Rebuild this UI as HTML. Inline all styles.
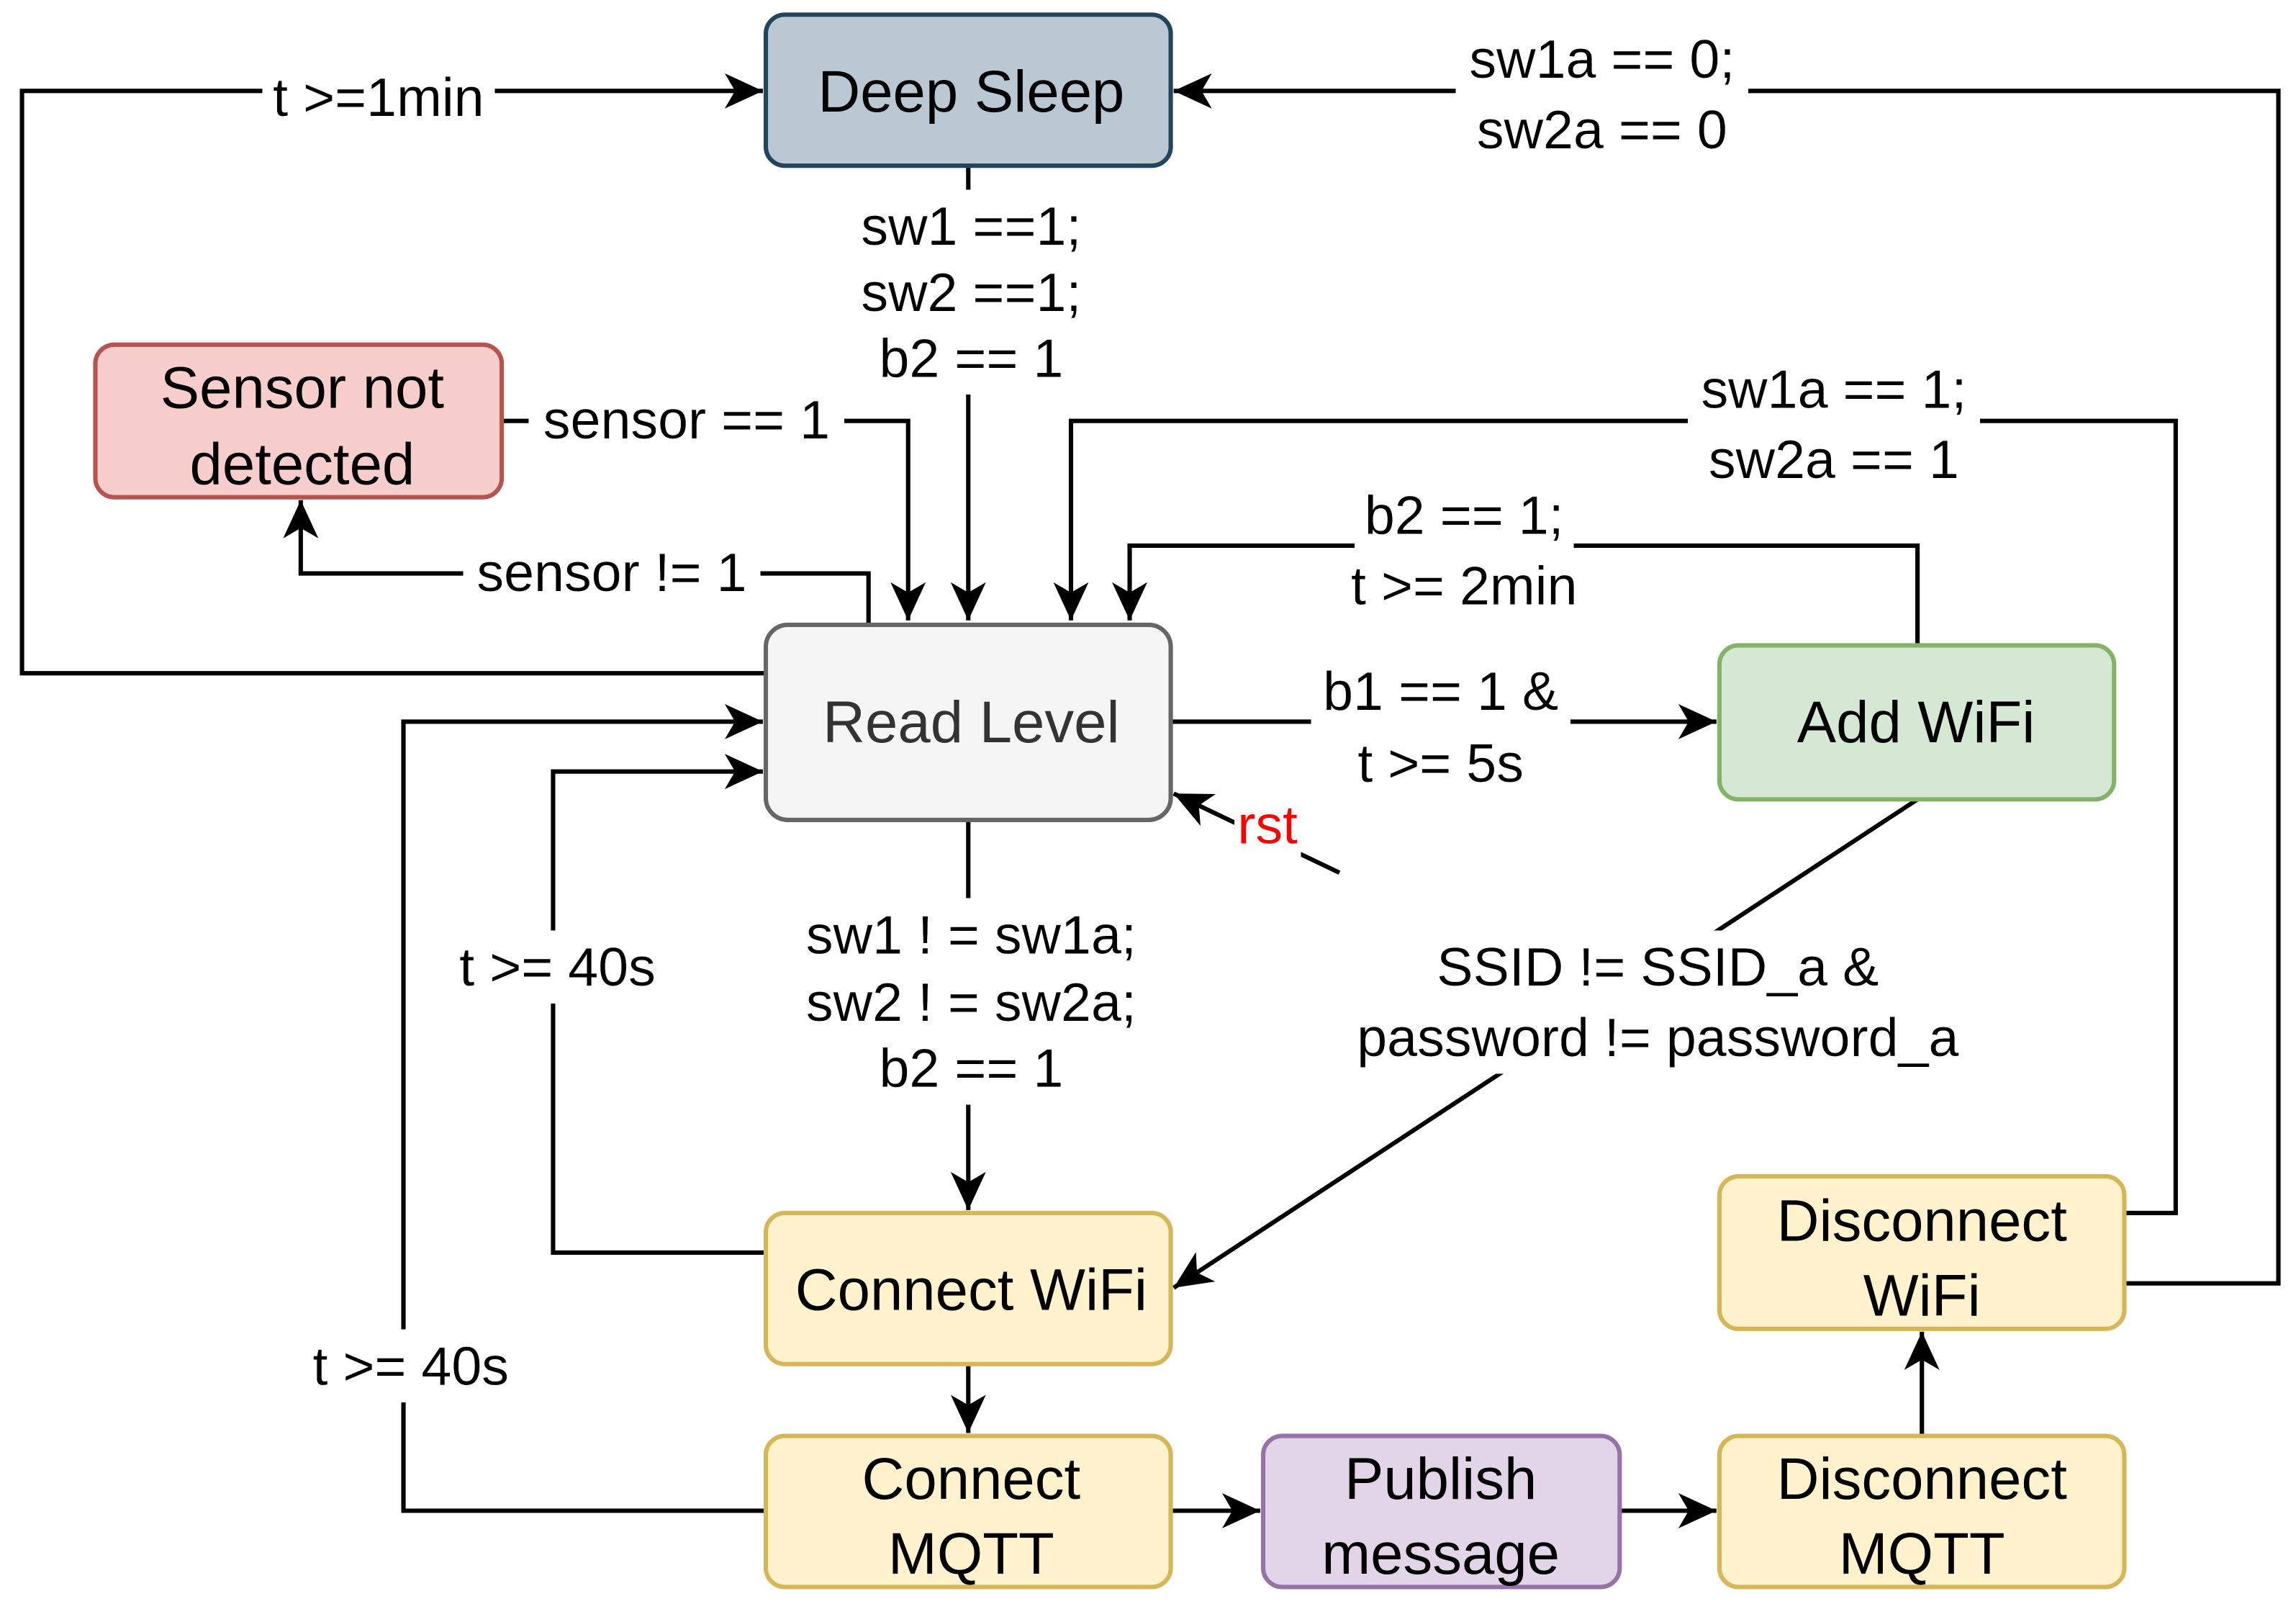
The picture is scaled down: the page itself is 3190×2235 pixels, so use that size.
<!DOCTYPE html>
<html><head><meta charset="utf-8"><style>
html,body{margin:0;padding:0;background:#fff;}
svg{display:block;}
text{font-family:"Liberation Sans",sans-serif;font-size:37px;fill:#000;text-anchor:middle;}
.lbl{filter:url(#bg);}
.n{font-size:40px;}
</style></head><body>
<svg width="3190" height="2235" viewBox="0 0 1565 1097" preserveAspectRatio="none" xmlns="http://www.w3.org/2000/svg">
<defs>
<marker id="a" markerUnits="userSpaceOnUse" markerWidth="30" markerHeight="30" refX="26" refY="12" orient="auto">
<path d="M0,0 L26,12 L0,24 L7,12 Z" fill="#000"/>
</marker>
<filter id="bg" x="-0.05" y="-0.1" width="1.1" height="1.2">
<feFlood flood-color="#fff"/>
<feMerge><feMergeNode/><feMergeNode in="SourceGraphic"/></feMerge>
</filter>
</defs>
<g fill="none" stroke="#000" stroke-width="3">
<polyline points="522,459 15,459 15,62 520,62" marker-end="url(#a)"/>
<polyline points="660,113 660,423" marker-end="url(#a)"/>
<polyline points="342,287 619,287 619,423" marker-end="url(#a)"/>
<polyline points="592,426 592,391 205,391 205,341" marker-end="url(#a)"/>
<polyline points="1448,827 1483,827 1483,287 730,287 730,423" marker-end="url(#a)"/>
<polyline points="1307,440 1307,372 770,372 770,423" marker-end="url(#a)"/>
<polyline points="798,492 1170,492" marker-end="url(#a)"/>
<polyline points="913,595 800,541" marker-end="url(#a)"/>
<polyline points="1307,545 800,878" marker-end="url(#a)"/>
<polyline points="660,559 660,825" marker-end="url(#a)"/>
<polyline points="522,854 377,854 377,526 520,526" marker-end="url(#a)"/>
<polyline points="522,1030 275,1030 275,492 520,492" marker-end="url(#a)"/>
<polyline points="660,930 660,977" marker-end="url(#a)"/>
<polyline points="798,1030 859,1030" marker-end="url(#a)"/>
<polyline points="1104,1030 1170,1030" marker-end="url(#a)"/>
<polyline points="1310,979 1310,908" marker-end="url(#a)"/>
<polyline points="1448,875 1553,875 1553,62 800,62" marker-end="url(#a)"/>
</g>
<g stroke-width="3">
<rect x="522" y="10" width="276" height="103" rx="13" fill="#bac8d3" stroke="#23445d"/>
<rect x="65" y="235" width="277" height="104" rx="13" fill="#f8cecc" stroke="#b85450"/>
<rect x="522" y="426" width="276" height="133" rx="15" fill="#f5f5f5" stroke="#666666"/>
<rect x="1172" y="440" width="269" height="105" rx="13" fill="#d5e8d4" stroke="#82b366"/>
<rect x="522" y="827" width="276" height="103" rx="13" fill="#fff2cc" stroke="#d6b656"/>
<rect x="522" y="979" width="276" height="103" rx="13" fill="#fff2cc" stroke="#d6b656"/>
<rect x="861" y="979" width="243" height="103" rx="13" fill="#e1d5e7" stroke="#9673a6"/>
<rect x="1172" y="979" width="276" height="103" rx="13" fill="#fff2cc" stroke="#d6b656"/>
<rect x="1172" y="802" width="276" height="104" rx="13" fill="#fff2cc" stroke="#d6b656"/>
</g>
<text class="n" x="662" y="76">Deep Sleep</text>
<text class="n" x="206" y="278">Sensor not</text>
<text class="n" x="206" y="330">detected</text>
<text class="n" x="662" y="506" style="fill:#333">Read Level</text>
<text class="n" x="1306" y="506">Add WiFi</text>
<text class="n" x="662" y="893">Connect WiFi</text>
<text class="n" x="662" y="1022">Connect</text>
<text class="n" x="662" y="1073">MQTT</text>
<text class="n" x="982" y="1022">Publish</text>
<text class="n" x="982" y="1073">message</text>
<text class="n" x="1310" y="846">Disconnect</text>
<text class="n" x="1310" y="897">WiFi</text>
<text class="n" x="1310" y="1022">Disconnect</text>
<text class="n" x="1310" y="1073">MQTT</text>

<text class="lbl" x="258" y="79">t &gt;=1min</text>
<text class="lbl" x="662" y="167">sw1 ==1;</text>
<text class="lbl" x="662" y="212">sw2 ==1;</text>
<text class="lbl" x="662" y="257">b2 == 1</text>
<text class="lbl" x="468" y="299">sensor == 1</text>
<text class="lbl" x="417" y="403">sensor != 1</text>
<text class="lbl" x="1250" y="278">sw1a == 1;</text>
<text class="lbl" x="1250" y="326">sw2a == 1</text>
<text class="lbl" x="998" y="364">b2 == 1;</text>
<text class="lbl" x="998" y="412">t &gt;= 2min</text>
<text class="lbl" x="982" y="484">b1 == 1 &amp;</text>
<text class="lbl" x="982" y="533">t &gt;= 5s</text>
<text class="lbl" x="864" y="575" style="fill:#ff0000">rst</text>
<text class="lbl" x="1130" y="672">SSID  != SSID_a &amp;</text>
<text class="lbl" x="1130" y="720">password != password_a</text>
<text class="lbl" x="662" y="650">sw1 ! = sw1a;</text>
<text class="lbl" x="662" y="696">sw2 ! = sw2a;</text>
<text class="lbl" x="662" y="741">b2 == 1</text>
<text class="lbl" x="380" y="672">t &gt;= 40s</text>
<text class="lbl" x="280" y="944">t &gt;= 40s</text>
<text class="lbl" x="1092" y="53">sw1a == 0;</text>
<text class="lbl" x="1092" y="101">sw2a == 0</text>
</svg>
</body></html>
